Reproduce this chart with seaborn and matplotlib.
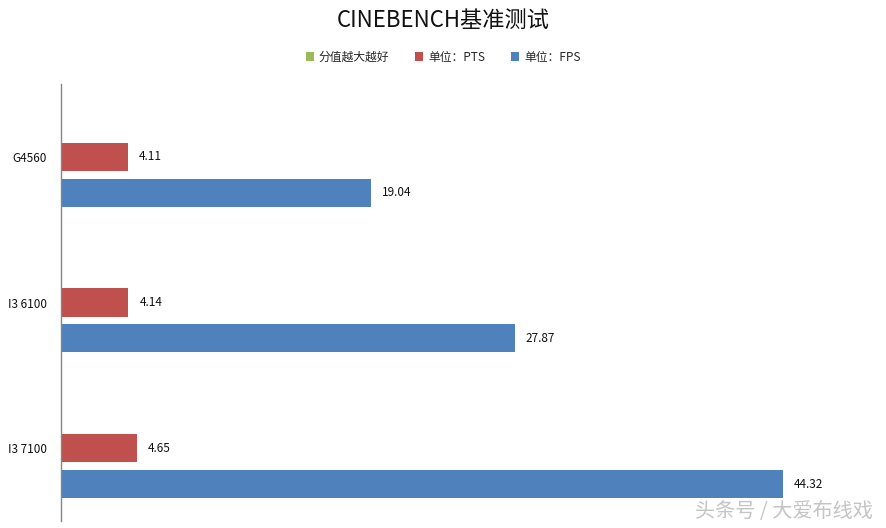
import pandas as pd
import matplotlib
matplotlib.use("Agg")
import matplotlib.pyplot as plt
import seaborn as sns
from matplotlib.patches import Patch

# Chart data
cpus = ["G4560", "I3 6100", "I3 7100"]
series = ["分值越大越好", "单位：PTS", "单位：FPS"]
score_hint = [0, 0, 0]          # green series has no bars
pts = [4.11, 4.14, 4.65]
fps = [19.04, 27.87, 44.32]
colors = ["#9BBB59", "#C0504D", "#4F81BD"]

rows = []
for i, cpu in enumerate(cpus):
    rows.append({"cpu": cpu, "series": series[0], "value": score_hint[i]})
    rows.append({"cpu": cpu, "series": series[1], "value": pts[i]})
    rows.append({"cpu": cpu, "series": series[2], "value": fps[i]})
df = pd.DataFrame(rows)

sns.set_theme(style="white")
plt.rcParams["font.family"] = ["Noto Sans CJK SC", "DejaVu Sans"]

fig = plt.figure(figsize=(8.86, 5.28), dpi=100)
ax = fig.add_axes([61 / 886, 1 - 521 / 528, 814 / 886, 437 / 528])

sns.barplot(data=df, x="value", y="cpu", hue="series", order=cpus,
            hue_order=series, palette=colors, saturation=1, orient="h",
            width=0.74, gap=0.22, linewidth=0, legend=False, ax=ax)

ax.set_xlim(0, 50)
ax.set_xlabel("")
ax.set_ylabel("")
ax.set_xticks([])
ax.tick_params(axis="y", length=0, labelsize=8.5, pad=10, labelcolor="#111111")
for side in ["top", "right", "bottom"]:
    ax.spines[side].set_visible(False)
ax.spines["left"].set_color("#868686")
ax.spines["left"].set_linewidth(1)

# value labels at the bar ends
for container in ax.containers[1:]:
    ax.bar_label(container, fmt="%.2f", padding=8, fontsize=8.5, color="#111111")

fig.text(0.5, 1 - 20 / 528, "CINEBENCH基准测试", ha="center", va="center",
         fontsize=16, color="#111111")

handles = [Patch(facecolor=c, edgecolor="none") for c in colors]
fig.legend(handles, series, loc="center", bbox_to_anchor=(0.5, 1 - 57 / 528),
           ncol=3, frameon=False, fontsize=8.5, handlelength=0.7,
           handleheight=0.7, handletextpad=0.4, columnspacing=2.2)

fig.text(873 / 886, 1 - 512 / 528, "头条号 / 大爱布线戏", ha="right", va="center",
         fontsize=14.5, color="#c4c4c4")

fig.savefig("out.png", dpi=100)
